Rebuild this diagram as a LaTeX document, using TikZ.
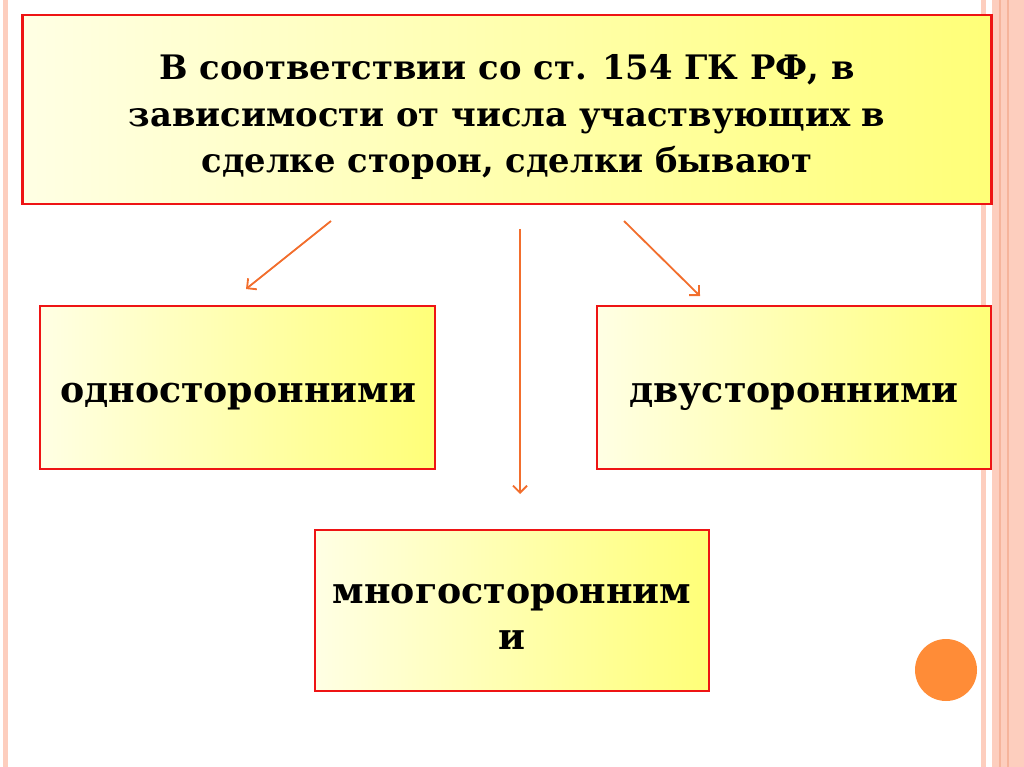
\documentclass[tikz,border=0pt]{standalone}
\usepackage{fontspec}
\setmainfont{DejaVu Serif}
\usetikzlibrary{arrows.meta}

\definecolor{boxred}{RGB}{238,20,20}
\definecolor{boxlight}{RGB}{255,255,228}
\definecolor{boxdeep}{RGB}{255,255,120}
\definecolor{arroworange}{RGB}{242,110,45}
\definecolor{stripepink}{RGB}{253,206,190}
\definecolor{stripedark}{RGB}{246,180,155}
\definecolor{dotorange}{RGB}{255,140,55}

\tikzset{
  kindbox/.style={draw=boxred, line width=2pt, left color=boxlight,
    right color=boxdeep, inner sep=0pt},
  headtext/.style={align=center, inner sep=0pt,
    font=\fontsize{24}{33}\selectfont\bfseries},
  kindtext/.style={align=center, inner sep=0pt,
    font=\fontsize{25.8}{33}\selectfont\bfseries},
  kindarrow/.style={draw=arroworange, line width=1.3pt,
    -{Straight Barb[length=5pt,width=10pt]}}
}

\begin{document}
\begin{tikzpicture}[x=0.025cm, y=-0.025cm]
        \useasboundingbox (0,0) rectangle (1024,767);

        % stripes on the edges
        \fill[stripepink] (3,0) rectangle (8,767);
        \fill[stripepink] (981,0) rectangle (986,767);
        \fill[stripepink] (992,0) rectangle (1024,767);
        \fill[stripedark] (999,0) rectangle (1001,767);
        \fill[stripedark] (1007,0) rectangle (1009,767);

        \fill[dotorange] (946,670) circle (31);

        % boxes
        \node[kindbox, minimum width=24.2cm, minimum height=4.725cm] (deals) at (507,109.5) {};
        \node[kindbox, minimum width=9.875cm, minimum height=4.075cm] (one) at (237.5,387.5) {};
        \node[kindbox, minimum width=9.85cm, minimum height=4.075cm] (two) at (794,387.5) {};
        \node[kindbox, minimum width=9.85cm, minimum height=4.025cm] (many) at (512,610.5) {};

        % texts
        \node[headtext] (dealstext) at (507,117)
             {В соответствии со ст. 154 ГК РФ, в\\зависимости от числа участвующих в\\сделке сторон, сделки бывают};
        \node[kindtext] (onetext) at (238,397) {односторонними};
        \node[kindtext] (twotext) at (794,397) {двусторонними};
        \node[kindtext] (manytext) at (512,617) {многосторонним\\и};

        \coordinate (oneS) at (331,221);
        \coordinate (oneE) at (246,289);
        \coordinate (manyS) at (520,229);
        \coordinate (manyE) at (520,494);
        \coordinate (twoS) at (624,221);
        \coordinate (twoE) at (700,296);

        \draw[kindarrow] (oneS) -- (oneE);
        \draw[kindarrow] (manyS) -- (manyE);
        \draw[kindarrow] (twoS) -- (twoE);
\end{tikzpicture}
\end{document}
